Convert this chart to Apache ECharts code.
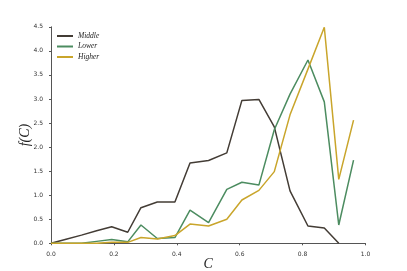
<!DOCTYPE html>
<html>
<head>
<meta charset="utf-8">
<script src="https://cdn.jsdelivr.net/npm/echarts@6/dist/echarts.min.js"></script>
<style>html,body{margin:0;padding:0;background:#fff;}#c{width:407px;height:271px;}</style>
</head>
<body>
<div id="c"></div>
<script>
const C = [0, 0.048, 0.097, 0.145, 0.193, 0.244, 0.286, 0.338, 0.394, 0.442, 0.501, 0.559, 0.607, 0.661, 0.71, 0.76, 0.817, 0.869, 0.915, 0.962];
const middle = [0, 0.086, 0.17, 0.26, 0.345, 0.23, 0.74, 0.86, 0.86, 1.67, 1.72, 1.88, 2.97, 2.99, 2.42, 1.09, 0.36, 0.32, 0.0, null];
const lower  = [0, 0, 0, 0.04, 0.08, 0.03, 0.38, 0.10, 0.12, 0.69, 0.43, 1.12, 1.27, 1.21, 2.36, 3.1, 3.81, 2.94, 0.38, 1.73];
const higher = [0, 0, 0, 0, 0.02, 0.02, 0.12, 0.09, 0.16, 0.40, 0.36, 0.50, 0.90, 1.10, 1.49, 2.67, 3.62, 4.49, 1.33, 2.56];
const seriesNames = ['Middle', 'Lower', 'Higher'];
const colors = ['#433c35', '#4c8c60', '#c9a52b'];

function pairs(ys) { return C.map((x, i) => [x, ys[i]]); }

const chart = echarts.init(document.getElementById('c'), null, {renderer: 'canvas'});
const axisCol = '#555';
chart.setOption({
  animation: false,
  color: colors,
  grid: {left: 51, right: 41.5, top: 26.8, bottom: 27.7, containLabel: false, outerBoundsMode: 'none'},
  legend: {
    orient: 'vertical', left: 57, top: 32, padding: 0,
    icon: 'rect', itemWidth: 16, itemHeight: 2, itemGap: 2.5,
    textStyle: {fontFamily: 'Liberation Serif', fontStyle: 'italic', fontSize: 7.5, color: '#222'},
    data: seriesNames
  },
  xAxis: {
    type: 'value', min: 0, max: 1, interval: 0.2, offset: 5,
    name: 'C', nameLocation: 'middle', nameGap: 9, nameMoveOverlap: false,
    nameTextStyle: {fontFamily: 'Liberation Serif', fontStyle: 'italic', fontSize: 14, color: '#222'},
    axisLine: {show: true, lineStyle: {color: axisCol, width: 1}},
    axisTick: {show: true, length: 2, lineStyle: {color: axisCol}},
    axisLabel: {fontFamily: 'DejaVu Sans', fontSize: 6, color: '#333', margin: 3, formatter: v => v.toFixed(1)},
    splitLine: {show: false}
  },
  yAxis: {
    type: 'value', min: 0, max: 4.5, interval: 0.5, offset: 5,
    name: 'f(C)', nameLocation: 'middle', nameGap: 14, nameRotate: 90, nameMoveOverlap: false,
    nameTextStyle: {fontFamily: 'Liberation Serif', fontStyle: 'italic', fontSize: 14, color: '#222'},
    axisLine: {show: true, lineStyle: {color: axisCol, width: 1}},
    axisTick: {show: true, length: 2, lineStyle: {color: axisCol}},
    axisLabel: {fontFamily: 'DejaVu Sans', fontSize: 6, color: '#333', margin: 3, formatter: v => v.toFixed(1)},
    splitLine: {show: false}
  },
  series: [
    {name: seriesNames[0], type: 'line', data: pairs(middle), showSymbol: false, symbol: 'none', lineStyle: {width: 1.5}},
    {name: seriesNames[1], type: 'line', data: pairs(lower), showSymbol: false, symbol: 'none', lineStyle: {width: 1.5}},
    {name: seriesNames[2], type: 'line', data: pairs(higher), showSymbol: false, symbol: 'none', lineStyle: {width: 1.5}}
  ]
});
</script>
</body>
</html>
